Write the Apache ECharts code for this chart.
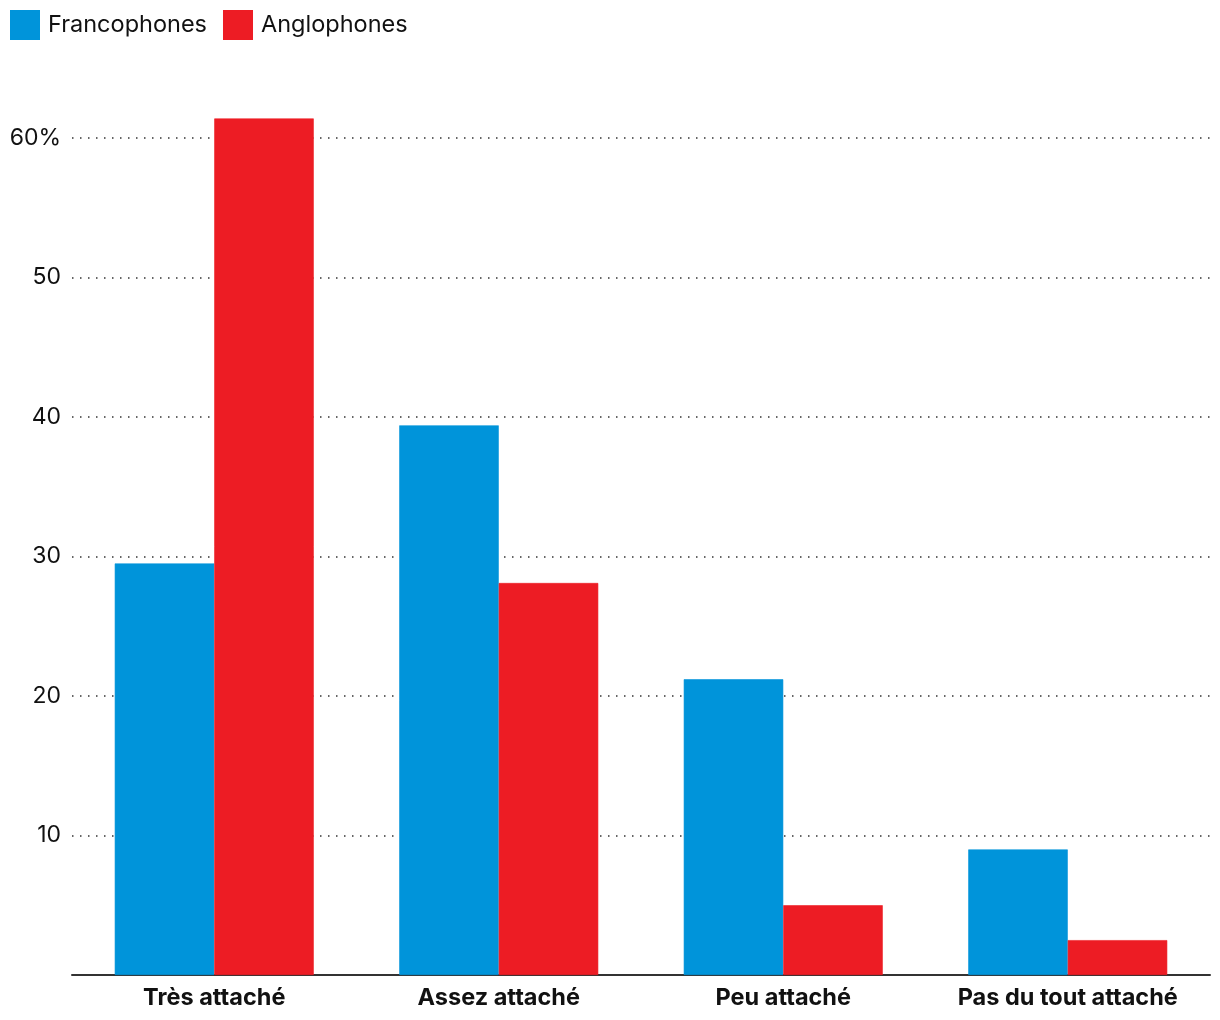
<!DOCTYPE html>
<html>
<head>
<meta charset="utf-8">
<script src="https://cdn.jsdelivr.net/npm/echarts@6/dist/echarts.min.js"></script>
<style>html,body{margin:0;padding:0;background:#fff;}#c{width:1220px;height:1020px;}</style>
</head>
<body>
<div id="c"></div>
<script>
const categories = ['Très attaché', 'Assez attaché', 'Peu attaché', 'Pas du tout attaché'];
const seriesNames = ['Francophones', 'Anglophones'];
const francophones = [29.5, 39.4, 21.2, 9.0];
const anglophones = [61.4, 28.1, 5.0, 2.5];
const yTicks = [0, 10, 20, 30, 40, 50, 60];

const chart = echarts.init(document.getElementById('c'));
chart.setOption({
  animation: false,
  backgroundColor: '#fff',
  textStyle: { fontFamily: 'Inter, Roboto, sans-serif' },
  legend: {
    left: 10, top: 10, padding: 0,
    itemWidth: 28, itemHeight: 28, itemGap: 16,
    icon: 'rect',
    textStyle: { fontSize: 23.5, color: '#111', padding: [0, 0, 0, 4] },
    data: seriesNames
  },
  grid: { left: 72, right: 10, top: 138, bottom: 45, containLabel: false },
  xAxis: {
    type: 'category',
    data: categories,
    axisLine: { lineStyle: { color: '#333', width: 2 } },
    axisTick: { show: false },
    axisLabel: { interval: 0, fontSize: 23.5, fontWeight: 'bold', color: '#111', margin: 11 }
  },
  yAxis: {
    type: 'value',
    min: yTicks[0], max: yTicks[yTicks.length - 1], interval: 10,
    axisLine: { show: false },
    axisTick: { show: false },
    axisLabel: {
      fontSize: 23, color: '#111', margin: 11,
      formatter: v => v === 0 ? '' : (v === 60 ? v + '%' : String(v))
    },
    splitLine: { lineStyle: { color: '#333', type: [1.5, 6.5], width: 1.5 } }
  },
  series: [
    { name: seriesNames[0], type: 'bar', data: francophones, barWidth: 99.5, barGap: '0%', clip: false, itemStyle: { color: '#0094da', borderColor: '#0094da', borderWidth: 0.6 } },
    { name: seriesNames[1], type: 'bar', data: anglophones, barWidth: 99.5, barGap: '0%', clip: false, itemStyle: { color: '#ed1c24', borderColor: '#ed1c24', borderWidth: 0.6 } }
  ]
});
</script>
</body>
</html>
